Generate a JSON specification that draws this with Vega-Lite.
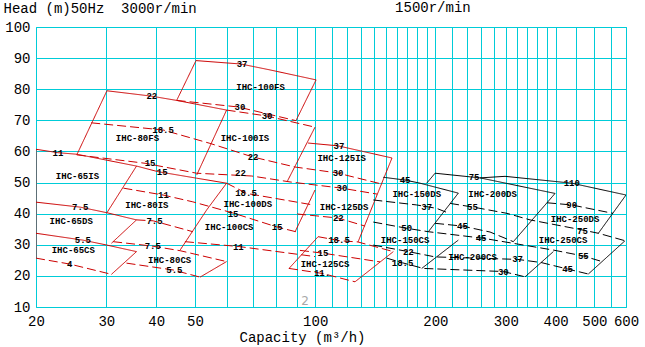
{
"$schema":"https://vega.github.io/schema/vega-lite/v6.json",
"width":590,"height":280,
"autosize":{"type":"none"},
"padding":{"left":36,"top":27,"right":19,"bottom":40},
"background":"white",
"config":{"view":{"stroke":"#00ccd8","strokeWidth":1}},
"datasets":{
"L":[
{"g":"r1","c":"r","d":"s","o":0,"q":50.3,"h":89.2},{"g":"r1","c":"r","d":"s","o":1,"q":65.2,"h":88.1},{"g":"r1","c":"r","d":"s","o":2,"q":77.1,"h":86.2},{"g":"r1","c":"r","d":"s","o":3,"q":100.5,"h":83.0},
{"g":"r2","c":"r","d":"s","o":0,"q":50.3,"h":89.2},{"g":"r2","c":"r","d":"s","o":1,"q":45.0,"h":76.4},
{"g":"r3","c":"r","d":"s","o":0,"q":100.5,"h":83.0},{"g":"r3","c":"r","d":"s","o":1,"q":89.5,"h":69.9},
{"g":"r4","c":"r","d":"d","o":0,"q":45.0,"h":76.4},{"g":"r4","c":"r","d":"d","o":1,"q":64.1,"h":74.3},{"g":"r4","c":"r","d":"d","o":2,"q":89.5,"h":69.9},
{"g":"r5","c":"r","d":"s","o":0,"q":30.1,"h":79.5},{"g":"r5","c":"r","d":"s","o":1,"q":38.8,"h":77.8},{"g":"r5","c":"r","d":"s","o":2,"q":45.0,"h":76.4},{"g":"r5","c":"r","d":"s","o":3,"q":60.0,"h":73.3},
{"g":"r6","c":"r","d":"d","o":0,"q":60.0,"h":73.3},{"g":"r6","c":"r","d":"d","o":1,"q":75.6,"h":71.4},{"g":"r6","c":"r","d":"d","o":2,"q":99.9,"h":67.8},
{"g":"r7","c":"r","d":"s","o":0,"q":30.1,"h":79.5},{"g":"r7","c":"r","d":"s","o":1,"q":25.3,"h":58.9},
{"g":"r8","c":"r","d":"d","o":0,"q":27.5,"h":69.2},{"g":"r8","c":"r","d":"d","o":1,"q":41.6,"h":66.9},{"g":"r8","c":"r","d":"d","o":2,"q":54.5,"h":62.6},{"g":"r8","c":"r","d":"d","o":3,"q":69.9,"h":58.2},{"g":"r8","c":"r","d":"d","o":4,"q":89.0,"h":55.0},{"g":"r8","c":"r","d":"d","o":5,"q":113.4,"h":53.1},{"g":"r8","c":"r","d":"d","o":6,"q":147.0,"h":49.5},
{"g":"r9","c":"r","d":"s","o":0,"q":60.0,"h":73.3},{"g":"r9","c":"r","d":"s","o":1,"q":50.5,"h":52.4},
{"g":"r10","c":"r","d":"s","o":0,"q":99.9,"h":67.8},{"g":"r10","c":"r","d":"s","o":1,"q":85.0,"h":50.2},
{"g":"r11","c":"r","d":"s","o":0,"q":96.0,"h":62.7},{"g":"r11","c":"r","d":"s","o":1,"q":114.1,"h":61.8},{"g":"r11","c":"r","d":"s","o":2,"q":155.7,"h":57.9},
{"g":"r12","c":"r","d":"s","o":0,"q":155.7,"h":57.9},{"g":"r12","c":"r","d":"s","o":1,"q":128.0,"h":30.9},
{"g":"r13","c":"r","d":"s","o":0,"q":20,"h":60.7},{"g":"r13","c":"r","d":"s","o":1,"q":22.7,"h":59.6},{"g":"r13","c":"r","d":"s","o":2,"q":25.3,"h":59.1},{"g":"r13","c":"r","d":"s","o":3,"q":35.7,"h":55.3},{"g":"r13","c":"r","d":"s","o":4,"q":40.4,"h":53.5},{"g":"r13","c":"r","d":"s","o":5,"q":50.5,"h":51.4},{"g":"r13","c":"r","d":"s","o":6,"q":60.0,"h":49.8},
{"g":"r14","c":"r","d":"d","o":0,"q":25.3,"h":58.9},{"g":"r14","c":"r","d":"d","o":1,"q":37.5,"h":56.2},{"g":"r14","c":"r","d":"d","o":2,"q":50.5,"h":53.0},{"g":"r14","c":"r","d":"d","o":3,"q":69.4,"h":52.1},{"g":"r14","c":"r","d":"d","o":4,"q":86.5,"h":50.2},{"g":"r14","c":"r","d":"d","o":5,"q":116.5,"h":48.2},{"g":"r14","c":"r","d":"d","o":6,"q":142.8,"h":46.3},
{"g":"r15","c":"r","d":"s","o":0,"q":35.7,"h":55.3},{"g":"r15","c":"r","d":"s","o":1,"q":30.1,"h":40.3},
{"g":"r16a","c":"r","d":"s","o":0,"q":20,"h":43.7},{"g":"r16a","c":"r","d":"s","o":1,"q":25.8,"h":42.1},{"g":"r16a","c":"r","d":"s","o":2,"q":30.1,"h":40.3},{"g":"r16a","c":"r","d":"s","o":3,"q":35.7,"h":38.0},
{"g":"r16b","c":"r","d":"d","o":0,"q":35.7,"h":38.0},{"g":"r16b","c":"r","d":"d","o":1,"q":39.3,"h":37.7},{"g":"r16b","c":"r","d":"d","o":2,"q":49.4,"h":34.2},
{"g":"r17","c":"r","d":"s","o":0,"q":35.7,"h":38.0},{"g":"r17","c":"r","d":"s","o":1,"q":30.9,"h":30.5},
{"g":"r18","c":"r","d":"s","o":0,"q":20,"h":33.7},{"g":"r18","c":"r","d":"s","o":1,"q":26.2,"h":31.5},{"g":"r18","c":"r","d":"s","o":2,"q":30.1,"h":29.9},{"g":"r18","c":"r","d":"s","o":3,"q":35.7,"h":27.8},
{"g":"r19","c":"r","d":"s","o":0,"q":35.7,"h":27.8},{"g":"r19","c":"r","d":"s","o":1,"q":30.9,"h":20.5},
{"g":"r20","c":"r","d":"d","o":0,"q":20,"h":25.7},{"g":"r20","c":"r","d":"d","o":1,"q":24.3,"h":23.8},{"g":"r20","c":"r","d":"d","o":2,"q":30.9,"h":20.5},
{"g":"r21","c":"r","d":"s","o":0,"q":20,"h":60.7},{"g":"r21","c":"r","d":"s","o":1,"q":20,"h":25.7},
{"g":"r22","c":"r","d":"d","o":0,"q":33.1,"h":48.2},{"g":"r22","c":"r","d":"d","o":1,"q":41.6,"h":46.0},{"g":"r22","c":"r","d":"d","o":2,"q":49.4,"h":43.8},{"g":"r22","c":"r","d":"d","o":3,"q":62.3,"h":40.2},{"g":"r22","c":"r","d":"d","o":4,"q":80.3,"h":35.7},{"g":"r22","c":"r","d":"d","o":5,"q":90.1,"h":34.1},
{"g":"r23","c":"r","d":"s","o":0,"q":60.0,"h":49.8},{"g":"r23","c":"r","d":"s","o":1,"q":53.5,"h":41.2},{"g":"r23","c":"r","d":"s","o":2,"q":45.9,"h":28.3},
{"g":"r24","c":"r","d":"d","o":0,"q":60.0,"h":49.8},{"g":"r24","c":"r","d":"d","o":1,"q":67.4,"h":46.5},{"g":"r24","c":"r","d":"d","o":2,"q":98.8,"h":42.8},
{"g":"r25","c":"r","d":"s","o":0,"q":99.9,"h":47.6},{"g":"r25","c":"r","d":"s","o":1,"q":89.0,"h":34.1},
{"g":"r26","c":"r","d":"d","o":0,"q":90.1,"h":39.9},{"g":"r26","c":"r","d":"d","o":1,"q":114.1,"h":38.6},{"g":"r26","c":"r","d":"d","o":2,"q":133.3,"h":36.0},
{"g":"r27","c":"r","d":"d","o":0,"q":47.2,"h":31.0},{"g":"r27","c":"r","d":"d","o":1,"q":64.8,"h":29.4},{"g":"r27","c":"r","d":"d","o":2,"q":99.9,"h":26.2},
{"g":"r28","c":"r","d":"s","o":0,"q":101.7,"h":32.6},{"g":"r28","c":"r","d":"s","o":1,"q":86.0,"h":22.4},
{"g":"r29","c":"r","d":"d","o":0,"q":86.0,"h":22.4},{"g":"r29","c":"r","d":"d","o":1,"q":104.0,"h":20.8},{"g":"r29","c":"r","d":"d","o":2,"q":125.8,"h":18.1},
{"g":"r30","c":"r","d":"d","o":0,"q":91.6,"h":28.2},{"g":"r30","c":"r","d":"d","o":1,"q":104.6,"h":27.3},{"g":"r30","c":"r","d":"d","o":2,"q":145.3,"h":24.5},
{"g":"r31","c":"r","d":"d","o":0,"q":101.7,"h":32.6},{"g":"r31","c":"r","d":"d","o":1,"q":115.4,"h":31.3},{"g":"r31","c":"r","d":"d","o":2,"q":128.0,"h":30.9},{"g":"r31","c":"r","d":"d","o":3,"q":156.9,"h":27.8},
{"g":"r33","c":"r","d":"s","o":0,"q":156.9,"h":27.8},{"g":"r33","c":"r","d":"s","o":1,"q":125.8,"h":18.1},
{"g":"r34","c":"r","d":"d","o":0,"q":31.2,"h":31.0},{"g":"r34","c":"r","d":"d","o":1,"q":39.0,"h":29.6},{"g":"r34","c":"r","d":"d","o":2,"q":45.9,"h":28.1},{"g":"r34","c":"r","d":"d","o":3,"q":60.0,"h":24.6},
{"g":"r35","c":"r","d":"s","o":0,"q":60.0,"h":24.6},{"g":"r35","c":"r","d":"s","o":1,"q":51.5,"h":19.6},
{"g":"r36","c":"r","d":"d","o":0,"q":33.7,"h":24.1},{"g":"r36","c":"r","d":"d","o":1,"q":44.1,"h":21.9},{"g":"r36","c":"r","d":"d","o":2,"q":51.5,"h":19.6},
{"g":"b1","c":"b","d":"s","o":0,"q":148.1,"h":51.7},{"g":"b1","c":"b","d":"s","o":1,"q":167.9,"h":50.8},{"g":"b1","c":"b","d":"s","o":2,"q":183.0,"h":49.8},{"g":"b1","c":"b","d":"s","o":3,"q":228.2,"h":46.6},
{"g":"b2","c":"b","d":"s","o":0,"q":228.2,"h":46.6},{"g":"b2","c":"b","d":"s","o":1,"q":192.0,"h":34.2},
{"g":"b3","c":"b","d":"d","o":0,"q":139.8,"h":44.4},{"g":"b3","c":"b","d":"d","o":1,"q":179.6,"h":42.8},{"g":"b3","c":"b","d":"d","o":2,"q":201.5,"h":41.7},{"g":"b3","c":"b","d":"d","o":3,"q":212.6,"h":40.5},
{"g":"b13","c":"b","d":"d","o":0,"q":217.6,"h":43.3},{"g":"b13","c":"b","d":"d","o":1,"q":248.9,"h":42.1},{"g":"b13","c":"b","d":"d","o":2,"q":302.2,"h":40.1},{"g":"b13","c":"b","d":"d","o":3,"q":345.1,"h":38.0},{"g":"b13","c":"b","d":"d","o":4,"q":464.9,"h":34.8},{"g":"b13","c":"b","d":"d","o":5,"q":511.6,"h":33.7},{"g":"b13","c":"b","d":"d","o":6,"q":596.7,"h":31.3},
{"g":"b5","c":"b","d":"d","o":0,"q":139.8,"h":37.3},{"g":"b5","c":"b","d":"d","o":1,"q":169.5,"h":35.3},{"g":"b5","c":"b","d":"d","o":2,"q":192.0,"h":34.2},{"g":"b5","c":"b","d":"d","o":3,"q":263.2,"h":32.1},{"g":"b5","c":"b","d":"d","o":4,"q":394.7,"h":28.3},
{"g":"b6","c":"b","d":"d","o":0,"q":199.6,"h":36.9},{"g":"b6","c":"b","d":"d","o":1,"q":233.8,"h":36.0},{"g":"b6","c":"b","d":"d","o":2,"q":274.0,"h":34.1},{"g":"b6","c":"b","d":"d","o":3,"q":313.4,"h":31.0},
{"g":"b7","c":"b","d":"s","o":0,"q":199.6,"h":53.0},{"g":"b7","c":"b","d":"s","o":1,"q":249.9,"h":51.7},{"g":"b7","c":"b","d":"s","o":2,"q":258.7,"h":51.5},{"g":"b7","c":"b","d":"s","o":3,"q":398.6,"h":46.5},
{"g":"b8","c":"b","d":"s","o":0,"q":199.6,"h":53.0},{"g":"b8","c":"b","d":"s","o":1,"q":190.2,"h":49.8},
{"g":"b9","c":"b","d":"s","o":0,"q":398.6,"h":46.5},{"g":"b9","c":"b","d":"s","o":1,"q":313.4,"h":31.0},
{"g":"b10","c":"b","d":"s","o":0,"q":258.7,"h":51.5},{"g":"b10","c":"b","d":"s","o":1,"q":298.8,"h":52.0},{"g":"b10","c":"b","d":"s","o":2,"q":438.8,"h":49.8},{"g":"b10","c":"b","d":"s","o":3,"q":600,"h":46.0},
{"g":"b11","c":"b","d":"s","o":0,"q":600,"h":46.0},{"g":"b11","c":"b","d":"s","o":1,"q":511.6,"h":33.7},
{"g":"b12","c":"b","d":"d","o":0,"q":380.6,"h":43.5},{"g":"b12","c":"b","d":"d","o":1,"q":438.8,"h":42.8},{"g":"b12","c":"b","d":"d","o":2,"q":556.8,"h":40.1},
{"g":"b14","c":"b","d":"s","o":0,"q":596.7,"h":31.3},{"g":"b14","c":"b","d":"s","o":1,"q":482.9,"h":20.6},
{"g":"b15","c":"b","d":"d","o":0,"q":394.7,"h":28.3},{"g":"b15","c":"b","d":"d","o":1,"q":469.2,"h":26.4},{"g":"b15","c":"b","d":"d","o":2,"q":522.6,"h":24.6},
{"g":"b18","c":"b","d":"s","o":0,"q":394.7,"h":27.8},{"g":"b18","c":"b","d":"s","o":1,"q":335.3,"h":19.7},
{"g":"b19","c":"b","d":"d","o":0,"q":139.8,"h":29.9},{"g":"b19","c":"b","d":"d","o":1,"q":171.1,"h":27.8},{"g":"b19","c":"b","d":"d","o":2,"q":199.6,"h":26.1},{"g":"b19","c":"b","d":"d","o":3,"q":321.1,"h":25.3},{"g":"b19","c":"b","d":"d","o":4,"q":367.7,"h":24.3},{"g":"b19","c":"b","d":"d","o":5,"q":428.4,"h":22.2},{"g":"b19","c":"b","d":"d","o":6,"q":482.9,"h":20.6},
{"g":"b20","c":"b","d":"d","o":0,"q":151.1,"h":25.7},{"g":"b20","c":"b","d":"d","o":1,"q":165.5,"h":24.2},{"g":"b20","c":"b","d":"d","o":2,"q":186.5,"h":22.4},{"g":"b20","c":"b","d":"d","o":3,"q":295.8,"h":21.4},{"g":"b20","c":"b","d":"d","o":4,"q":335.3,"h":19.7},
{"g":"b21","c":"b","d":"s","o":0,"q":228.2,"h":31.5},{"g":"b21","c":"b","d":"s","o":1,"q":184.8,"h":22.4}
],
"T":[
{"t":"IHC-100FS","k":"m","q":73.0,"h":80.7},{"t":"IHC-80FS","k":"m","q":35.9,"h":64.4},{"t":"IHC-100IS","k":"m","q":66.7,"h":64.4},
{"t":"IHC-65IS","k":"m","q":25.4,"h":52.1},{"t":"IHC-80IS","k":"m","q":37.9,"h":42.8},{"t":"IHC-65DS","k":"m","q":24.5,"h":37.6},
{"t":"IHC-65CS","k":"m","q":24.8,"h":28.3},{"t":"IHC-80CS","k":"m","q":43.2,"h":25.1},{"t":"IHC-100DS","k":"m","q":67.8,"h":43.1},
{"t":"IHC-100CS","k":"m","q":60.9,"h":35.8},{"t":"IHC-125IS","k":"m","q":116.5,"h":58.0},{"t":"IHC-125DS","k":"m","q":118.1,"h":42.0},
{"t":"IHC-125CS","k":"m","q":105.8,"h":23.8},{"t":"IHC-150DS","k":"m","q":179.6,"h":46.3},{"t":"IHC-150CS","k":"m","q":167.9,"h":31.5},
{"t":"IHC-200DS","k":"m","q":278.0,"h":46.3},{"t":"IHC-200CS","k":"m","q":247.7,"h":26.2},{"t":"IHC-250DS","k":"m","q":447.3,"h":38.2},
{"t":"IHC-250CS","k":"m","q":417.4,"h":31.5},
{"t":"37","k":"p","q":65.6,"h":88.1},{"t":"22","k":"p","q":39.0,"h":77.8},{"t":"30","k":"p","q":64.8,"h":74.2},{"t":"30","k":"p","q":75.8,"h":71.4},
{"t":"18.5","k":"p","q":41.6,"h":66.9},{"t":"11","k":"p","q":22.7,"h":59.6},{"t":"15","k":"p","q":38.6,"h":56.2},{"t":"15","k":"p","q":41.4,"h":53.4},
{"t":"22","k":"p","q":69.9,"h":58.2},{"t":"22","k":"p","q":65.0,"h":53.0},{"t":"37","k":"p","q":114.7,"h":61.8},{"t":"30","k":"p","q":114.1,"h":53.2},
{"t":"30","k":"p","q":116.7,"h":48.2},{"t":"22","k":"p","q":114.3,"h":38.5},{"t":"18.5","k":"p","q":67.1,"h":46.6},{"t":"15","k":"p","q":62.3,"h":39.9},
{"t":"15","k":"p","q":80.3,"h":35.8},{"t":"11","k":"p","q":64.2,"h":29.4},{"t":"7.5","k":"p","q":25.8,"h":42.1},{"t":"7.5","k":"p","q":39.6,"h":37.7},
{"t":"5.5","k":"p","q":26.2,"h":31.5},{"t":"7.5","k":"p","q":39.2,"h":29.6},{"t":"4","k":"p","q":24.3,"h":23.8},{"t":"5.5","k":"p","q":44.4,"h":21.9},
{"t":"11","k":"p","q":41.7,"h":46.0},{"t":"15","k":"p","q":104.6,"h":27.3},{"t":"11.","k":"p","q":104.0,"h":20.8},{"t":"18.5","k":"p","q":114.7,"h":31.4},
{"t":"45","k":"p","q":167.9,"h":50.8},{"t":"37","k":"p","q":190.2,"h":42.2},{"t":"50","k":"p","q":169.5,"h":35.3},{"t":"22","k":"p","q":171.1,"h":27.8},
{"t":"18.5","k":"p","q":165.5,"h":24.2},{"t":"75","k":"p","q":249.9,"h":51.7},{"t":"55","k":"p","q":247.7,"h":42.1},{"t":"45","k":"p","q":233.8,"h":36.0},
{"t":"45","k":"p","q":260.2,"h":32.1},{"t":"37","k":"p","q":321.1,"h":25.3},{"t":"30","k":"p","q":295.8,"h":21.4},{"t":"110","k":"p","q":438.8,"h":49.8},
{"t":"90","k":"p","q":438.8,"h":42.8},{"t":"75","k":"p","q":467.0,"h":34.5},{"t":"55","k":"p","q":469.2,"h":26.4},{"t":"45","k":"p","q":428.4,"h":22.2}
],
"O":[{"t":"1500r/min","q":158.5,"h":106.1}],
"W":[{"t":"2","q":94.3,"h":11.9}]
},
"encoding":{
  "x":{"field":"q","type":"quantitative","scale":{"type":"log","domain":[20,600],"nice":false},
   "axis":{"values":[20,30,40,50,60,70,80,90,100,110,120,130,140,150,160,170,180,190,200,220,240,260,280,300,320,340,360,380,400,450,500,550,600],
    "labelExpr":"indexof([20,30,40,50,100,200,300,400,500,600], datum.value) >= 0 ? ('' + datum.value) : ''",
    "grid":true,"gridColor":"#00ccd8","gridOpacity":1,"gridWidth":1,"ticks":false,"tickSize":0,"domain":false,
    "labelFont":"Liberation Mono","labelFontSize":14,"labelColor":"#000000","labelPadding":7,"labelFlush":false,"labelOverlap":false,"labelBound":false,
    "title":"Capacity (m³/h)","titleFont":"Liberation Mono","titleFontSize":14,"titleFontWeight":"normal","titleColor":"#000000",
    "titleX":266,"titleY":30,"titleAlign":"center","titleBaseline":"middle"}},
  "y":{"field":"h","type":"quantitative","scale":{"domain":[10,100],"nice":false},
   "axis":{"values":[10,20,30,40,50,60,70,80,90,100],
    "labelExpr":"'' + datum.value",
    "grid":true,"gridColor":"#00ccd8","gridOpacity":1,"gridWidth":1,"ticks":false,"tickSize":0,"domain":false,
    "labelFont":"Liberation Mono","labelFontSize":14,"labelColor":"#000000","labelPadding":6,"labelFlush":false,"labelOverlap":false,"labelBound":false,
    "title":"Head (m)50Hz\u00a0\u00a03000r/min","titleFont":"Liberation Mono","titleFontSize":14,"titleFontWeight":"normal","titleColor":"#000000",
    "titleAngle":0,"titleX":-33,"titleY":-19,"titleAlign":"left","titleBaseline":"middle"}}
},
"layer":[
{"data":{"name":"L"},
 "mark":{"type":"line","strokeWidth":1,"clip":true},
 "encoding":{
  "detail":{"field":"g"},
  "order":{"field":"o","type":"quantitative"},
  "color":{"field":"c","type":"nominal","scale":{"domain":["r","b"],"range":["#cc0000","#000000"]},"legend":null},
  "strokeDash":{"field":"d","type":"nominal","scale":{"domain":["s","d"],"range":[[1,0],[9,4]]},"legend":null}
 }},
{"data":{"name":"T"},
 "transform":[{"filter":"datum.k == 'm'"}],
 "mark":{"type":"text","font":"Liberation Mono","fontSize":9,"fontWeight":"bold","color":"#000000","align":"center","baseline":"middle"},
 "encoding":{"text":{"field":"t"}}},
{"data":{"name":"T"},
 "transform":[{"filter":"datum.k == 'p'"}],
 "mark":{"type":"text","font":"Liberation Mono","fontSize":9,"fontWeight":"bold","color":"#000000","align":"center","baseline":"middle"},
 "encoding":{"text":{"field":"t"}}},
{"data":{"name":"O"},
 "mark":{"type":"text","font":"Liberation Mono","fontSize":14,"color":"#000000","align":"left","baseline":"middle","clip":false},
 "encoding":{"text":{"field":"t"}}},
{"data":{"name":"W"},
 "mark":{"type":"text","font":"DejaVu Sans","fontSize":12,"color":"#a8a8a8","align":"center","baseline":"middle"},
 "encoding":{"text":{"field":"t"}}}
]
}
